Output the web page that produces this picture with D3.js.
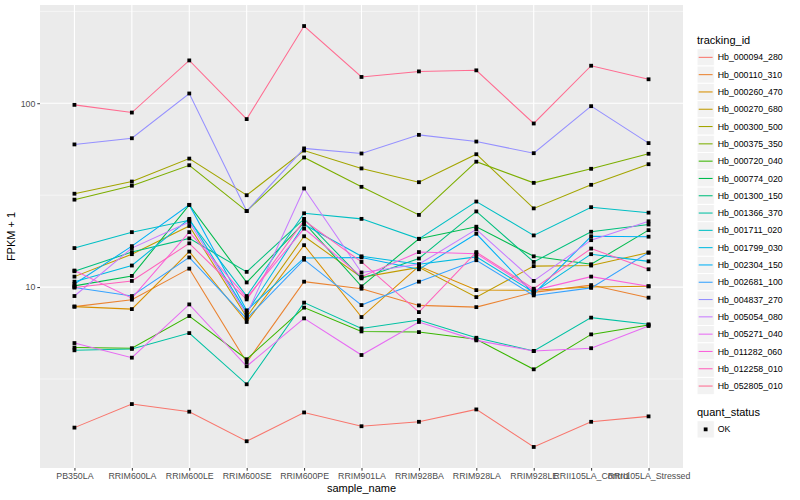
<!DOCTYPE html>
<html>
<head>
<meta charset="utf-8">
<script src="https://cdn.jsdelivr.net/npm/d3@7"></script>
<style>
  body { margin: 0; background: #fff; }
  text { font-family: "Liberation Sans", Arial, sans-serif; }
</style>
</head>
<body>
<div id="chart-container"></div>
<script>
// prøver: kategorier på x-aksen
const samples = ["PB350LA", "RRIM600LA", "RRIM600LE", "RRIM600SE", "RRIM600PE", "RRIM901LA",
  "RRIM928BA", "RRIM928LA", "RRIM928LE", "RRII105LA_Control", "RRII105LA_Stressed"];

// FPKM + 1 for hver tracking_id
const hb_000094_280 = [1.72, 2.31, 2.10, 1.45, 2.08, 1.75, 1.85, 2.16, 1.35, 1.85, 1.98];
const hb_000110_310 = [7.83, 8.54, 12.6, 3.90, 10.7, 9.8, 7.95, 7.78, 9.36, 10.25, 8.76];
const hb_000260_470 = [7.83, 7.59, 15.6, 6.46, 16.9, 6.87, 13.0, 9.63, 9.6, 10.0, 10.1];
const hb_000270_680 = [11.4, 15.1, 21.5, 6.87, 18.9, 11.3, 12.8, 8.82, 13.0, 13.1, 15.4];
const hb_000300_500 = [32.2, 37.5, 50.0, 31.6, 55.3, 44.2, 37.2, 52.8, 26.8, 36.0, 46.6];
const hb_000375_350 = [29.9, 35.6, 46.0, 25.9, 50.7, 35.1, 24.7, 48.1, 36.9, 44.0, 53.1];
const hb_000720_040 = [4.69, 4.65, 6.96, 4.05, 7.73, 5.74, 5.69, 5.20, 3.57, 5.53, 6.22];
const hb_000774_020 = [10.15, 11.5, 28.0, 10.6, 22.4, 10.1, 18.3, 21.3, 14.7, 13.3, 20.4];
const hb_001300_150 = [12.2, 15.5, 18.4, 12.1, 23.5, 11.15, 14.3, 25.8, 13.7, 20.0, 21.9];
const hb_001366_370 = [4.53, 4.61, 5.62, 2.96, 8.23, 5.96, 6.62, 5.30, 4.49, 6.82, 6.27];
const hb_001711_020 = [16.3, 19.9, 23.1, 8.94, 25.2, 23.5, 18.3, 29.2, 19.1, 27.2, 25.4];
const hb_001799_030 = [10.7, 13.1, 23.5, 7.26, 21.9, 14.7, 13.3, 14.6, 9.36, 15.1, 13.8];
const hb_002304_150 = [10.4, 16.7, 28.0, 7.47, 14.4, 14.5, 12.5, 19.5, 9.18, 18.9, 18.8];
const hb_002681_100 = [9.96, 8.94, 14.5, 6.73, 14.1, 7.98, 10.7, 14.0, 9.01, 9.9, 15.4];
const hb_004837_270 = [59.7, 64.5, 113, 25.9, 56.8, 53.3, 67.3, 61.9, 53.5, 96.4, 60.7];
const hb_005054_080 = [8.94, 16.3, 22.6, 7.08, 34.4, 12.0, 13.3, 20.6, 10.8, 18.0, 22.8];
const hb_005271_040 = [4.96, 4.13, 8.05, 3.71, 6.76, 4.27, 6.46, 5.13, 4.49, 4.65, 6.14];
const hb_011282_060 = [12.3, 8.71, 19.9, 8.76, 20.8, 11.4, 15.5, 15.2, 9.6, 11.4, 10.1];
const hb_012258_010 = [9.96, 10.8, 17.3, 8.57, 23.0, 13.7, 7.31, 15.5, 9.8, 16.2, 12.5];
const hb_052805_010 = [98, 89, 171, 82, 263, 139, 149, 151, 77.6, 160, 135];

const trackingIds = ["Hb_000094_280", "Hb_000110_310", "Hb_000260_470", "Hb_000270_680", "Hb_000300_500",
  "Hb_000375_350", "Hb_000720_040", "Hb_000774_020", "Hb_001300_150", "Hb_001366_370", "Hb_001711_020",
  "Hb_001799_030", "Hb_002304_150", "Hb_002681_100", "Hb_004837_270", "Hb_005054_080", "Hb_005271_040",
  "Hb_011282_060", "Hb_012258_010", "Hb_052805_010"];
const seriesValues = [hb_000094_280, hb_000110_310, hb_000260_470, hb_000270_680, hb_000300_500,
  hb_000375_350, hb_000720_040, hb_000774_020, hb_001300_150, hb_001366_370, hb_001711_020,
  hb_001799_030, hb_002304_150, hb_002681_100, hb_004837_270, hb_005054_080, hb_005271_040,
  hb_011282_060, hb_012258_010, hb_052805_010];

// ggplot standardfarver (hue_pal, 20 niveauer)
const colors = ["#F8766D", "#EA8331", "#D89000", "#C09B00", "#A3A500", "#7CAE00", "#39B600", "#00BB4E",
  "#00BF7D", "#00C1A3", "#00BFC4", "#00BAE0", "#00B0F6", "#35A2FF", "#9590FF", "#C77CFF", "#E76BF3",
  "#FA62DB", "#FF62BC", "#FF6C91"];

const yTicks = [10, 100];
const yMinor = [Math.sqrt(10), Math.sqrt(1000), Math.sqrt(100000)];

const width = 800, height = 500;
const marginLeft = 40, marginRight = 117, marginTop = 5, marginBottom = 32;

const series = trackingIds.map((id, i) => ({
  id,
  color: colors[i],
  values: seriesValues[i].map((v, j) => ({ sample: samples[j], value: v }))
}));

const svg = d3.select("#chart-container").append("svg")
  .attr("width", width).attr("height", height);

const xScale = d3.scalePoint()
  .domain(samples)
  .range([marginLeft, width - marginRight])
  .padding(0.6);

// log-skala med 5% udvidelse som i ggplot
const allVals = seriesValues.flat();
const lo = Math.log10(d3.min(allVals)), hi = Math.log10(d3.max(allVals));
const pad = (hi - lo) * 0.05;
const yScale = d3.scaleLog()
  .domain([Math.pow(10, lo - pad), Math.pow(10, hi + pad)])
  .range([height - marginBottom, marginTop]);

// panel baggrund
svg.append("rect")
  .attr("x", marginLeft).attr("y", marginTop)
  .attr("width", width - marginRight - marginLeft)
  .attr("height", height - marginBottom - marginTop)
  .attr("fill", "#EBEBEB");

const grid = svg.append("g");
grid.selectAll(".minor").data(yMinor).enter().append("line")
  .attr("x1", marginLeft).attr("x2", width - marginRight)
  .attr("y1", d => yScale(d)).attr("y2", d => yScale(d))
  .attr("stroke", "#fff").attr("stroke-width", 0.55);
grid.selectAll(".major").data(yTicks).enter().append("line")
  .attr("x1", marginLeft).attr("x2", width - marginRight)
  .attr("y1", d => yScale(d)).attr("y2", d => yScale(d))
  .attr("stroke", "#fff").attr("stroke-width", 1.1);
grid.selectAll(".vx").data(samples).enter().append("line")
  .attr("x1", d => xScale(d)).attr("x2", d => xScale(d))
  .attr("y1", marginTop).attr("y2", height - marginBottom)
  .attr("stroke", "#fff").attr("stroke-width", 1.1);

// linjer
const line = d3.line()
  .x(d => xScale(d.sample))
  .y(d => yScale(d.value));

svg.append("g").selectAll("path").data(series).enter().append("path")
  .attr("d", d => line(d.values))
  .attr("fill", "none")
  .attr("stroke", d => d.color)
  .attr("stroke-width", 1.05);

// punkter (quant_status = OK)
const pts = series.flatMap(s => s.values);
svg.append("g").selectAll("rect").data(pts).enter().append("rect")
  .attr("x", d => xScale(d.sample) - 1.9)
  .attr("y", d => yScale(d.value) - 1.9)
  .attr("width", 3.8).attr("height", 3.8)
  .attr("fill", "#000");

// akser
const xAxisG = svg.append("g")
  .attr("transform", `translate(0, ${height - marginBottom})`)
  .call(d3.axisBottom(xScale).tickSize(2.7).tickPadding(2));
const yAxisG = svg.append("g")
  .attr("transform", `translate(${marginLeft}, 0)`)
  .call(d3.axisLeft(yScale).tickValues(yTicks).tickFormat(d3.format("d")).tickSize(2.7).tickPadding(2));

[xAxisG, yAxisG].forEach(g => {
  g.select(".domain").remove();
  g.selectAll("line").attr("stroke", "#333").attr("stroke-width", 1);
  g.selectAll("text").attr("fill", "#4D4D4D").style("font-size", "8.8px")
    .style("font-family", "'Liberation Sans', Arial, sans-serif");
});

// aksetitler
svg.append("text")
  .attr("x", (marginLeft + width - marginRight) / 2)
  .attr("y", 492)
  .attr("text-anchor", "middle")
  .style("font-size", "11px")
  .text("sample_name");
svg.append("text")
  .attr("transform", `translate(15, ${(marginTop + height - marginBottom) / 2}) rotate(-90)`)
  .attr("text-anchor", "middle")
  .style("font-size", "11px")
  .text("FPKM + 1");

// legende: tracking_id
const legend = svg.append("g").attr("transform", "translate(697, 0)");
legend.append("text").attr("x", 0).attr("y", 44)
  .style("font-size", "11px").text("tracking_id");
const keySize = 17.3, keyTop = 48.7;
const items = legend.selectAll(".item").data(series).enter().append("g")
  .attr("transform", (d, i) => `translate(0, ${keyTop + i * keySize})`);
items.append("rect")
  .attr("width", keySize).attr("height", keySize)
  .attr("fill", "#F2F2F2").attr("stroke", "#fff").attr("stroke-width", 1);
items.append("line")
  .attr("x1", 1.7).attr("x2", keySize - 1.7)
  .attr("y1", keySize / 2).attr("y2", keySize / 2)
  .attr("stroke", d => d.color).attr("stroke-width", 1.05);
items.append("text")
  .attr("x", keySize + 3.4).attr("y", keySize / 2)
  .attr("dy", "0.35em")
  .style("font-size", "8.8px")
  .text(d => d.id);

// legende: quant_status
legend.append("text").attr("x", 0).attr("y", 416)
  .style("font-size", "11px").text("quant_status");
const ok = legend.append("g").attr("transform", "translate(0, 420.7)");
ok.append("rect")
  .attr("width", keySize).attr("height", keySize)
  .attr("fill", "#F2F2F2").attr("stroke", "#fff");
ok.append("rect")
  .attr("x", keySize / 2 - 1.9).attr("y", keySize / 2 - 1.9)
  .attr("width", 3.8).attr("height", 3.8).attr("fill", "#000");
ok.append("text")
  .attr("x", keySize + 3.4).attr("y", keySize / 2).attr("dy", "0.35em")
  .style("font-size", "8.8px").text("OK");
</script>
</body>
</html>
